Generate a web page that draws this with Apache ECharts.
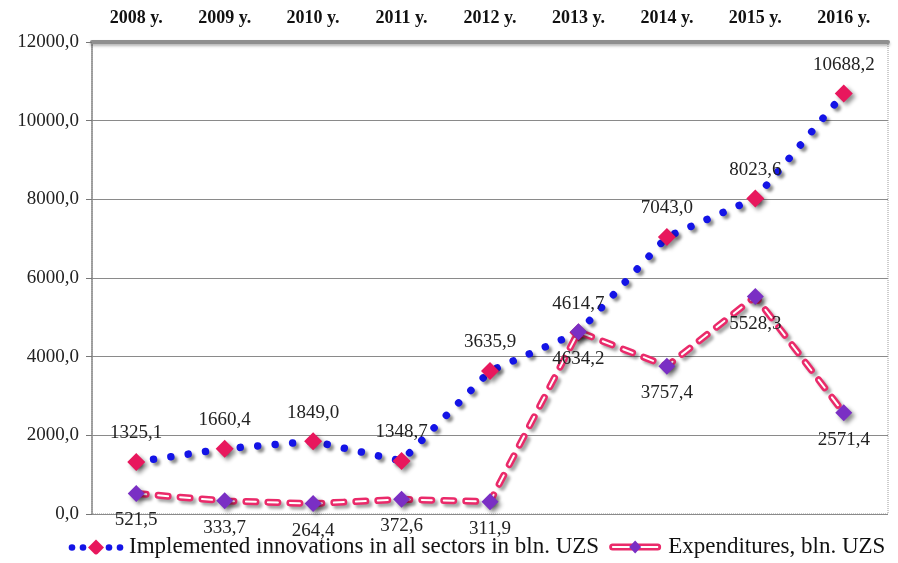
<!DOCTYPE html>
<html>
<head>
<meta charset="utf-8">
<script src="https://cdn.jsdelivr.net/npm/echarts@6/dist/echarts.min.js"></script>
<style>
html, body { margin: 0; padding: 0; background: #fff; }
#container { width: 898px; height: 563px; }
</style>
</head>
<body>
<div id="container"></div>
<script>
var years = ['2008 y.', '2009 y.', '2010 y.', '2011 y.', '2012 y.', '2013 y.', '2014 y.', '2015 y.', '2016 y.'];
var implemented = [1325.1, 1660.4, 1849.0, 1348.7, 3635.9, 4614.7, 7043.0, 8023.6, 10688.2];
var expenditures = [521.5, 333.7, 264.4, 372.6, 311.9, 4634.2, 3757.4, 5528.3, 2571.4];
var nameImpl = 'Implemented innovations in all sectors in bln. UZS';
var nameExp = 'Expenditures, bln. UZS';

var serif = '"Liberation Serif", "DejaVu Serif", serif';
function fmt(v) { return v.toFixed(1).replace('.', ','); }

// legend icons as inline svg
var iconImpl = 'image://data:image/svg+xml;utf8,' + encodeURIComponent(
  '<svg xmlns="http://www.w3.org/2000/svg" width="56" height="16">' +
  '<circle cx="4" cy="9" r="3.3" fill="#1414e6"/><circle cx="15" cy="9" r="3.3" fill="#1414e6"/>' +
  '<circle cx="41" cy="9" r="3.3" fill="#1414e6"/><circle cx="52" cy="9" r="3.3" fill="#1414e6"/>' +
  '<polygon points="28,1 36,9 28,17 20,9" fill="#e8175d"/></svg>');
var iconExp = 'image://data:image/svg+xml;utf8,' + encodeURIComponent(
  '<svg xmlns="http://www.w3.org/2000/svg" width="56" height="16">' +
  '<rect x="2" y="5" width="52" height="7" rx="3.5" fill="#ea2a6a"/>' +
  '<line x1="5" y1="8.5" x2="51" y2="8.5" stroke="#fff" stroke-width="2"/>' +
  '<polygon points="28,2 34,8.5 28,15 22,8.5" fill="#7a2fc4"/></svg>');

var dom = document.getElementById('container');
var myChart = echarts.init(dom);
var option = {
  animation: false,
  grid: { left: 92, right: 10, top: 42, bottom: 49, show: true, borderColor: '#9a9a9a', borderType: 'dotted', borderWidth: 1 },
  legend: {
    left: 68, bottom: 5, width: 828, padding: 0,
    itemWidth: 56, itemHeight: 16, itemGap: 8,
    textStyle: { fontFamily: serif, fontSize: 23, color: '#111' },
    data: [
      { name: nameImpl, icon: iconImpl },
      { name: nameExp, icon: iconExp }
    ]
  },
  xAxis: {
    type: 'category',
    position: 'top',
    data: years,
    boundaryGap: true,
    axisLine: { show: true, onZero: false, lineStyle: { color: '#8f8f8f', width: 4, shadowColor: 'rgba(0,0,0,0.3)', shadowBlur: 3, shadowOffsetY: 2 } },
    axisTick: { show: false },
    axisLabel: { margin: 15, fontFamily: serif, fontSize: 18, fontWeight: 'bold', color: '#111' }
  },
  yAxis: {
    type: 'value',
    min: 0, max: 12000, interval: 2000,
    axisLine: { show: true, lineStyle: { color: '#8a8a8a', width: 1.5 } },
    axisTick: { show: true, length: 6, lineStyle: { color: '#777' } },
    splitLine: { lineStyle: { color: '#8a8a8a', width: 1 } },
    axisLabel: { margin: 13, fontFamily: serif, fontSize: 19, color: '#222', formatter: fmt }
  },
  series: [
    {
      name: nameImpl,
      type: 'line',
      data: implemented,
      symbol: 'diamond',
      symbolSize: 18,
      itemStyle: { color: '#e8175d', shadowColor: 'rgba(0,0,0,0.45)', shadowBlur: 4, shadowOffsetX: 3, shadowOffsetY: 3 },
      lineStyle: { color: '#1414e6', width: 7.5, type: [0.01, 17.5], cap: 'round', shadowColor: 'rgba(0,0,0,0.45)', shadowBlur: 3, shadowOffsetX: 3, shadowOffsetY: 3 },
      label: { show: true, position: 'top', distance: 10, fontFamily: serif, fontSize: 19, color: '#222', formatter: function (p) { return fmt(p.value); } },
      z: 2
    },
    {
      name: 'exp-outline',
      type: 'line',
      data: expenditures,
      symbol: 'none',
      silent: true,
      lineStyle: { color: '#ea2a6a', width: 7, type: [10, 12], cap: 'round', shadowColor: 'rgba(0,0,0,0.35)', shadowBlur: 3, shadowOffsetX: 3, shadowOffsetY: 3 },
      z: 3
    },
    {
      name: nameExp,
      type: 'line',
      data: expenditures,
      symbol: 'diamond',
      symbolSize: 17,
      itemStyle: { color: '#7a2fc4', shadowColor: 'rgba(0,0,0,0.45)', shadowBlur: 4, shadowOffsetX: 3, shadowOffsetY: 3 },
      lineStyle: { color: '#ffffff', width: 2, type: [10, 12], cap: 'round' },
      label: { show: true, position: 'bottom', distance: 9, fontFamily: serif, fontSize: 19, color: '#222', formatter: function (p) { return fmt(p.value); } },
      z: 3
    }
  ]
};

if (option && typeof option === 'object') {
  myChart.setOption(option, true);
}
</script>
</body>
</html>
